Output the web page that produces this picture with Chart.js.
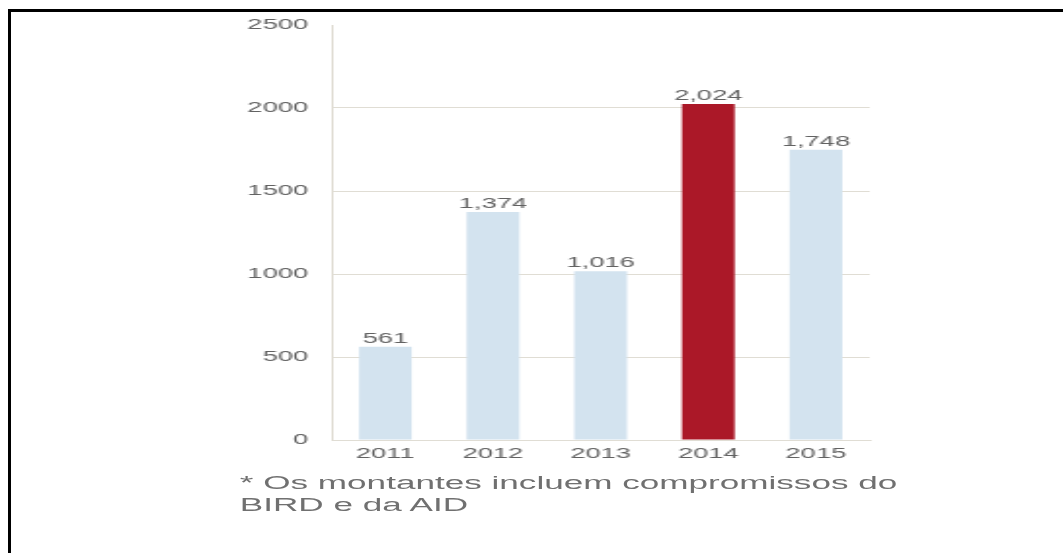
<!DOCTYPE html>
<html>
<head>
<meta charset="utf-8">
<script src="https://cdn.jsdelivr.net/npm/chart.js@4/dist/chart.umd.min.js"></script>
<style>
    html, body { margin: 0; padding: 0; background: #fff; overflow: hidden; }
    body { width: 1063px; height: 553px; position: relative; }
    .frame {
        position: absolute; left: 8px; top: 9px; width: 1100px; height: 600px;
        border-top: 3px solid #000; border-left: 3px solid #000;
    }
    /* the whole graphic is drawn narrow and stretched sideways */
    #stage {
        position: absolute; left: 0; top: 0; width: 545px; height: 553px;
        transform: scaleX(1.95); transform-origin: 0 0;
    }
    #barChart { position: absolute; left: 0; top: 0; }
    .note {
        position: absolute; left: 123px; top: 472px; width: 400px;
        font-family: "Liberation Sans", Arial, sans-serif; font-size: 18px;
        line-height: 22px; color: #707070; white-space: nowrap;
    }
</style>
</head>
<body>
<div class="frame"></div>
<div id="stage">
    <canvas id="barChart" width="545" height="470"></canvas>
    <div class="note">* Os montantes incluem compromissos do<br>BIRD e da AID</div>
</div>
<script>
const YEARS = ['2011', '2012', '2013', '2014', '2015'];
const AMOUNTS = [561, 1374, 1016, 2024, 1748];
const Y_MAX = 2500;
const Y_STEP = 500;
const HIGHLIGHT_YEAR = '2014';

const BAR_COLOR = '#d3e3ef';
const HIGHLIGHT_COLOR = '#ab1828';
const TEXT_COLOR = '#626262';
const LINE_COLOR = '#e0ddd4';
const FONT = '"Liberation Sans", Arial, sans-serif';

// value labels above each bar, e.g. "1,374"
const valueLabels = {
    id: 'valueLabels',
    afterDatasetsDraw(chart) {
        const ctx = chart.ctx;
        const meta = chart.getDatasetMeta(0);
        ctx.save();
        ctx.font = `14px ${FONT}`;
        ctx.fillStyle = TEXT_COLOR;
        ctx.textAlign = 'center';
        ctx.textBaseline = 'alphabetic';
        meta.data.forEach((bar, i) => {
            ctx.fillText(AMOUNTS[i].toLocaleString('en-US'), bar.x, bar.y - 4);
        });
        ctx.restore();
    }
};

new Chart(document.getElementById('barChart'), {
    type: 'bar',
    data: {
        labels: YEARS,
        datasets: [{
            data: AMOUNTS,
            backgroundColor: YEARS.map(y => y === HIGHLIGHT_YEAR ? HIGHLIGHT_COLOR : BAR_COLOR),
            borderWidth: 0,
            barPercentage: 0.49,
            categoryPercentage: 1
        }]
    },
    options: {
        responsive: false,
        animation: false,
        events: [],
        layout: { padding: { left: 0, right: 99, top: 25, bottom: 0 } },
        plugins: {
            legend: { display: false },
            tooltip: { enabled: false }
        },
        scales: {
            x: {
                grid: { display: false, drawTicks: false },
                border: { display: true, color: LINE_COLOR, width: 1 },
                ticks: {
                    color: TEXT_COLOR,
                    font: { family: FONT, size: 14 },
                    padding: 6,
                    maxRotation: 0
                },
                afterFit(scale) { scale.height = 30; }
            },
            y: {
                min: 0,
                max: Y_MAX,
                grid: {
                    drawTicks: false,
                    color: ctx => ctx.tick && ctx.tick.value === Y_MAX ? 'rgba(0,0,0,0)' : LINE_COLOR
                },
                border: { display: true, color: LINE_COLOR, width: 1 },
                ticks: {
                    stepSize: Y_STEP,
                    color: TEXT_COLOR,
                    font: { family: FONT, size: 14 },
                    padding: 12,
                    callback: v => String(v)
                },
                afterFit(scale) { scale.width = 170; }
            }
        }
    },
    plugins: [valueLabels]
});
</script>
</body>
</html>
